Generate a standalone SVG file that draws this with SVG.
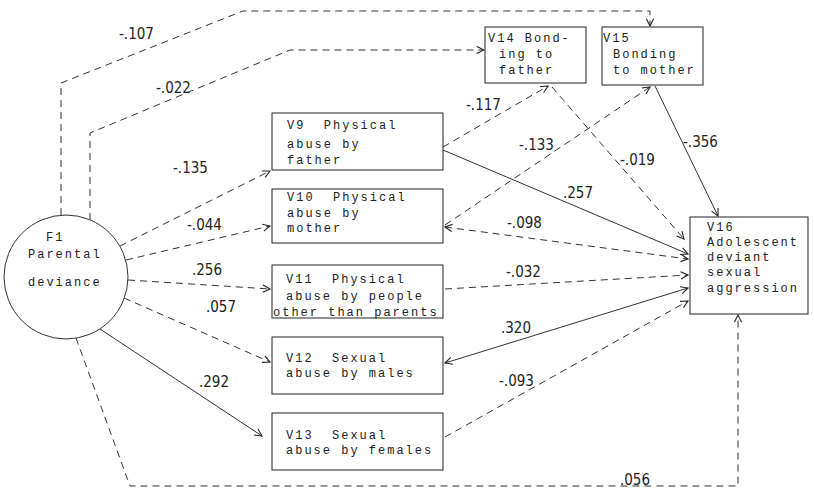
<svg xmlns="http://www.w3.org/2000/svg" width="814" height="495" viewBox="0 0 814 495">
<defs>
<marker id="ah" viewBox="0 0 10 10" refX="9" refY="5" markerWidth="9" markerHeight="9" markerUnits="userSpaceOnUse" orient="auto-start-reverse">
<path d="M1,1 L9,5 L1,9" fill="none" stroke="#222" stroke-width="1.2"/>
</marker>
<style>
.bx{fill:#fff;stroke:#222;stroke-width:1}
.t{font-family:"Liberation Mono",monospace;font-size:12px;letter-spacing:2px;fill:#222;white-space:pre}
.lb{font-family:"Liberation Sans Narrow","DejaVu Sans Condensed","Liberation Sans",sans-serif;font-size:15px;fill:#222}
.d{fill:none;stroke:#333;stroke-width:1;stroke-dasharray:7,5}
.s{fill:none;stroke:#333;stroke-width:1}
</style>
</defs>
<rect width="814" height="495" fill="#fff"/>
<g id="connectors">
<path class="d" d="M61,215 L61,83 L243,11 L650,11 L650,26" marker-end="url(#ah)"/>
<path class="d" d="M90,220 L90,133 L290,50 L484,50" marker-end="url(#ah)"/>
<path class="d" d="M120,246 L270,171" marker-end="url(#ah)"/>
<path class="d" d="M126,260 L270,226" marker-end="url(#ah)"/>
<path class="d" d="M128,280 L270,289" marker-end="url(#ah)"/>
<path class="d" d="M124,298 L270,362" marker-end="url(#ah)"/>
<path class="s" d="M100,329 L262,436" marker-end="url(#ah)"/>
<path class="d" d="M76,338 L130,486 L738,486 L738,315" marker-end="url(#ah)"/>
<path class="d" d="M443,147 L548,86" marker-end="url(#ah)"/>
<path class="d" d="M445,225 L650,87" marker-end="url(#ah)"/>
<path class="d" d="M552,87 L684,239" marker-end="url(#ah)"/>
<path class="s" d="M655,86 L718,216" marker-end="url(#ah)"/>
<path class="s" d="M443,150 L688,254" marker-end="url(#ah)"/>
<path class="d" d="M445,227 L688,259" marker-start="url(#ah)" marker-end="url(#ah)"/>
<path class="d" d="M445,289 L688,275" marker-end="url(#ah)"/>
<path class="s" d="M445,363 L688,288" marker-start="url(#ah)" marker-end="url(#ah)"/>
<path class="d" d="M445,437 L688,301" marker-end="url(#ah)"/>
</g>
<g id="labels">
<text class="lb" x="119" y="39">-.107</text>
<text class="lb" x="156" y="93">-.022</text>
<text class="lb" x="173" y="173">-.135</text>
<text class="lb" x="187" y="230">-.044</text>
<text class="lb" x="192" y="275">.256</text>
<text class="lb" x="206" y="312">.057</text>
<text class="lb" x="199" y="387">.292</text>
<text class="lb" x="620" y="485">.056</text>
<text class="lb" x="466" y="110">-.117</text>
<text class="lb" x="519" y="150">-.133</text>
<text class="lb" x="620" y="165">-.019</text>
<text class="lb" x="683" y="147">-.356</text>
<text class="lb" x="563" y="198">.257</text>
<text class="lb" x="507" y="228">-.098</text>
<text class="lb" x="506" y="277">-.032</text>
<text class="lb" x="501" y="333">.320</text>
<text class="lb" x="499" y="386">-.093</text>
</g>
<g id="F1">
<circle cx="66" cy="277" r="62" fill="#fff" stroke="#333" stroke-width="1"/>
<text class="t" x="46" y="241">F1</text>
<text class="t" x="28" y="258">Parental</text>
<text class="t" x="28" y="286">deviance</text>
</g>
<g id="V9">
<rect class="bx" x="272" y="113" width="171" height="57"/>
<text class="t" x="287" y="129">V9  Physical</text>
<text class="t" x="287" y="148">abuse by</text>
<text class="t" x="287" y="164">father</text>
</g>
<g id="V10">
<rect class="bx" x="272" y="189" width="171" height="54"/>
<text class="t" x="287" y="201">V10  Physical</text>
<text class="t" x="287" y="217">abuse by</text>
<text class="t" x="287" y="232">mother</text>
</g>
<g id="V11">
<rect class="bx" x="272" y="265" width="171" height="53"/>
<text class="t" x="286" y="283">V11  Physical</text>
<text class="t" x="286" y="300">abuse by people</text>
<text class="t" x="273" y="316">other than parents</text>
</g>
<g id="V12">
<rect class="bx" x="272" y="337" width="171" height="57"/>
<text class="t" x="286" y="362">V12  Sexual</text>
<text class="t" x="286" y="377">abuse by males</text>
</g>
<g id="V13">
<rect class="bx" x="272" y="413" width="171" height="57"/>
<text class="t" x="286" y="439">V13  Sexual</text>
<text class="t" x="286" y="454">abuse by females</text>
</g>
<g id="V14">
<rect class="bx" x="485" y="27" width="101" height="56"/>
<text class="t" x="488" y="42">V14 Bond-</text>
<text class="t" x="499" y="58">ing to</text>
<text class="t" x="499" y="74">father</text>
</g>
<g id="V15">
<rect class="bx" x="602" y="27" width="101" height="58"/>
<text class="t" x="603" y="42">V15</text>
<text class="t" x="613" y="58">Bonding</text>
<text class="t" x="613" y="74">to mother</text>
</g>
<g id="V16">
<rect class="bx" x="690" y="217" width="118" height="97"/>
<text class="t" x="707" y="231">V16</text>
<text class="t" x="707" y="246">Adolescent</text>
<text class="t" x="707" y="261">deviant</text>
<text class="t" x="707" y="276">sexual</text>
<text class="t" x="707" y="292">aggression</text>
</g>
</svg>
